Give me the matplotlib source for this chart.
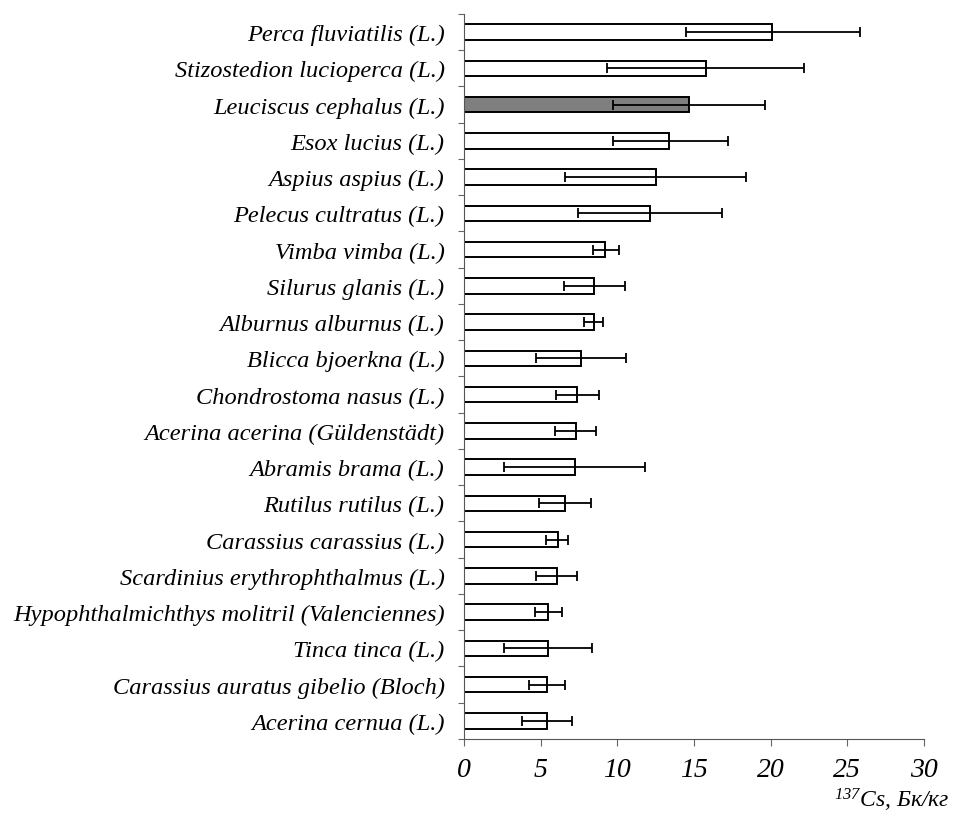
# Содержание 137Cs в рыбах, горизонтальные столбцы с погрешностями
import numpy as np
import matplotlib
matplotlib.use('Agg')
import matplotlib.pyplot as plt
from matplotlib.ticker import FixedLocator

# данные, сверху вниз
species = ['Perca fluviatilis (L.)', 'Stizostedion lucioperca (L.)', 'Leuciscus cephalus (L.)',
           'Esox lucius (L.)', 'Aspius aspius (L.)', 'Pelecus cultratus (L.)', 'Vimba vimba (L.)',
           'Silurus glanis (L.)', 'Alburnus alburnus (L.)', 'Blicca bjoerkna (L.)',
           'Chondrostoma nasus (L.)', 'Acerina acerina (Güldenstädt)', 'Abramis brama (L.)',
           'Rutilus rutilus (L.)', 'Carassius carassius (L.)', 'Scardinius erythrophthalmus (L.)',
           'Hypophthalmichthys molitril (Valenciennes)', 'Tinca tinca (L.)',
           'Carassius auratus gibelio (Bloch)', 'Acerina cernua (L.)']
mean = [20.1, 15.8, 14.7, 13.4, 12.5, 12.1, 9.2, 8.5, 8.45, 7.6,
        7.4, 7.3, 7.25, 6.6, 6.1, 6.05, 5.5, 5.5, 5.43, 5.43]
low = [14.5, 9.35, 9.7, 9.7, 6.6, 7.45, 8.4, 6.5, 7.8, 4.7,
       6.0, 5.95, 2.6, 4.9, 5.35, 4.7, 4.6, 2.6, 4.25, 3.75]
high = [25.8, 22.2, 19.6, 17.2, 18.4, 16.8, 10.1, 10.5, 9.05, 10.55,
        8.8, 8.6, 11.8, 8.25, 6.75, 7.35, 6.4, 8.35, 6.6, 7.05]
highlight = 'Leuciscus cephalus (L.)'

mean = np.array(mean)
err = [mean - np.array(low), np.array(high) - mean]
colors = ['#7f7f7f' if s == highlight else 'white' for s in species]

plt.rcParams['font.family'] = ['Liberation Serif', 'DejaVu Serif']
plt.rcParams['font.style'] = 'italic'
plt.rcParams['mathtext.fontset'] = 'custom'
plt.rcParams['mathtext.rm'] = 'Liberation Serif:italic'
plt.rcParams['mathtext.it'] = 'Liberation Serif:italic'

fig = plt.figure(figsize=(9.56, 8.2), dpi=100)
ax = fig.add_axes([464/956, 1 - 740/820, 460/956, 725/820])

y = np.arange(len(species))
ax.barh(y, mean, height=0.43, color=colors, edgecolor='black', linewidth=1.4,
        xerr=err, error_kw=dict(ecolor='black', elinewidth=1.3, capsize=3.5, capthick=1.3))

ax.set_ylim(len(species) - 0.5, -0.5)
ax.set_yticks(y)
ax.set_yticklabels(species, fontsize=17.6)
ax.yaxis.set_minor_locator(FixedLocator(np.arange(-0.5, len(species), 1)))
ax.tick_params(axis='y', which='major', length=0, pad=14)
ax.tick_params(axis='y', which='minor', length=4, width=0.8, color='#666666')

ax.set_xlim(0, 30)
ax.set_xticks(range(0, 31, 5))
ax.tick_params(axis='x', length=5, width=0.8, color='#666666', labelsize=20, pad=8)

for s in ['top', 'right']:
    ax.spines[s].set_visible(False)
ax.spines['left'].set_color('#555555')
ax.spines['bottom'].set_color('#555555')

fig.text(950/956, 1 - 808/820, r'$^{137}$Cs, Бк/кг', ha='right', va='baseline',
         fontsize=17, style='italic')

fig.savefig('out.png', dpi=100)
